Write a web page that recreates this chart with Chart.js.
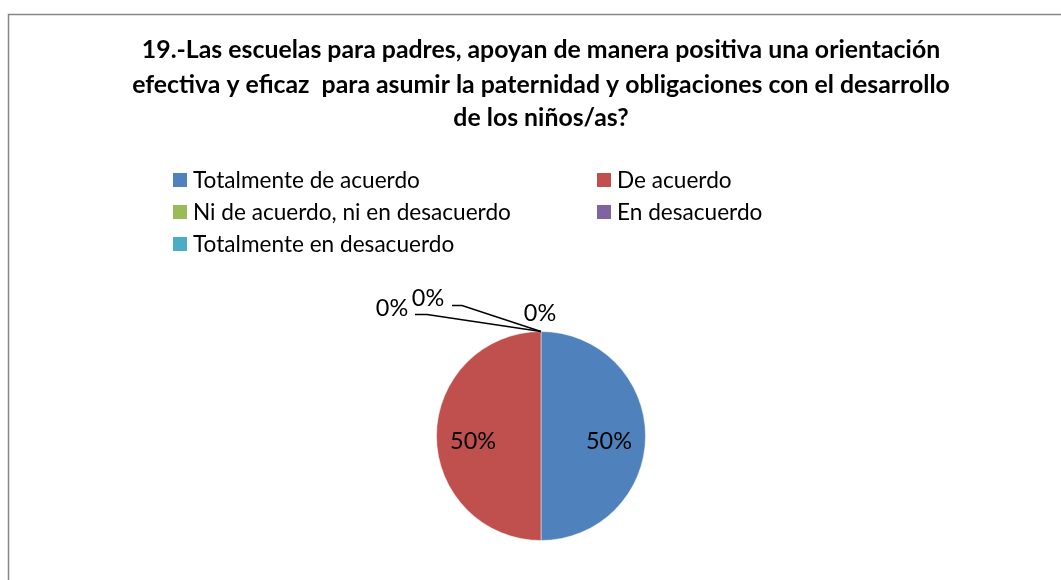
<!DOCTYPE html>
<html>
<head>
<meta charset="utf-8">
<script src="https://cdn.jsdelivr.net/npm/chart.js@4.4.1/dist/chart.umd.min.js"></script>
<style>
  html, body { margin: 0; padding: 0; background: #fff; }
  #wrap { position: relative; width: 1061px; height: 580px; }
  canvas { display: block; }
</style>
</head>
<body>
<div id="wrap"><canvas id="c" width="1061" height="580"></canvas></div>
<script>
// ---- data ----
const titleLines = [
  "19.-Las escuelas para padres, apoyan de manera positiva una orientación",
  "efectiva y eficaz  para asumir la paternidad y obligaciones con el desarrollo",
  "de los niños/as?"
];
const categories = [
  "Totalmente de acuerdo",
  "De acuerdo",
  "Ni de acuerdo, ni en desacuerdo",
  "En desacuerdo",
  "Totalmente en desacuerdo"
];
const values = [50, 50, 0, 0, 0];
const colors = ["#4F81BD", "#C0504D", "#9BBB59", "#8064A2", "#4BACC6"];

const FAMILY = "Lato, 'Open Sans', sans-serif";

function fitSize(ctx, text, target, weight) {
  ctx.font = weight + " 100px " + FAMILY;
  const w = ctx.measureText(text).width;
  return 100 * target / w;
}

const decor = {
  id: 'decor',
  beforeDraw(chart) {
    const ctx = chart.ctx;
    ctx.save();
    ctx.fillStyle = '#fff';
    ctx.fillRect(0, 0, chart.width, chart.height);
    ctx.strokeStyle = '#868686';
    ctx.lineWidth = 1.5;
    ctx.strokeRect(8.5, 14.5, 1200, 800);
    ctx.restore();
  },
  afterDraw(chart) {
    const ctx = chart.ctx;
    ctx.save();
    // title
    const tSize = fitSize(ctx, titleLines[1], 818, 'bold');
    ctx.font = 'bold ' + tSize.toFixed(2) + 'px ' + FAMILY;
    ctx.fillStyle = '#000';
    ctx.textAlign = 'center';
    ctx.textBaseline = 'middle';
    const tY = [50, 85, 118];
    titleLines.forEach((l, i) => ctx.fillText(l, 541, tY[i]));

    // legend
    const lSize = fitSize(ctx, categories[0], 227, 'normal');
    ctx.font = lSize.toFixed(2) + 'px ' + FAMILY;
    ctx.textAlign = 'left';
    const colX = [173, 597];
    const rowY = [180, 212, 244];
    categories.forEach((c, i) => {
      const x = colX[i % 2], y = rowY[Math.floor(i / 2)];
      ctx.fillStyle = colors[i];
      ctx.fillRect(x, y - 7, 14, 14);
      ctx.fillStyle = '#000';
      ctx.fillText(c, x + 20, y + 1);
    });

    // data labels
    const meta = chart.getDatasetMeta(0);
    const total = values.reduce((a, b) => a + b, 0);
    const pSize = fitSize(ctx, "50%", 46, 'normal');
    ctx.font = pSize.toFixed(2) + 'px ' + FAMILY;
    ctx.textAlign = 'center';
    // offsets (dx,dy from pie tip) for small-slice labels and their leader elbows
    const outside = {
      2: { dx: -149, dy: -23, elbow: [-126, -17, -114, -17] },
      3: { dx: -113, dy: -33, elbow: [-89, -26, -79, -26] },
      4: { dx: -1, dy: -18, elbow: null }
    };
    meta.data.forEach((arc, i) => {
      const pct = Math.round(values[i] / total * 100) + '%';
      const mid = (arc.startAngle + arc.endAngle) / 2;
      if (values[i] / total > 0.05) {
        const r = arc.outerRadius * 0.65;
        ctx.fillStyle = '#000';
        ctx.fillText(pct, arc.x + Math.cos(mid) * r, arc.y + Math.sin(mid) * r + 5);
      } else {
        const tipX = arc.x + Math.cos(mid) * arc.outerRadius;
        const tipY = arc.y + Math.sin(mid) * arc.outerRadius;
        const o = outside[i];
        if (o.elbow) {
          ctx.strokeStyle = '#000';
          ctx.lineWidth = 1.5;
          ctx.beginPath();
          ctx.moveTo(tipX + o.elbow[0], tipY + o.elbow[1]);
          ctx.lineTo(tipX + o.elbow[2], tipY + o.elbow[3]);
          ctx.lineTo(tipX, tipY);
          ctx.stroke();
        }
        ctx.fillStyle = '#000';
        ctx.fillText(pct, tipX + o.dx, tipY + o.dy);
      }
    });
    ctx.restore();
  }
};

new Chart(document.getElementById('c'), {
  type: 'pie',
  data: {
    labels: categories,
    datasets: [{
      data: values,
      backgroundColor: colors,
      borderColor: 'rgba(255,255,255,0.45)',
      borderWidth: 1
    }]
  },
  options: {
    responsive: false,
    animation: false,
    layout: { padding: { top: 331, bottom: 39, left: 21, right: 0 } },
    plugins: {
      legend: { display: false },
      title: { display: false },
      tooltip: { enabled: false }
    }
  },
  plugins: [decor]
});
</script>
</body>
</html>
